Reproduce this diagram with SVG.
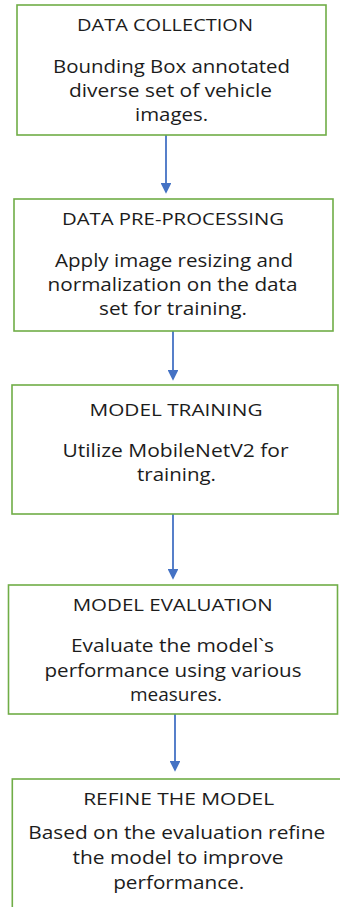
<svg xmlns="http://www.w3.org/2000/svg" width="340" height="907" viewBox="0 0 340 907">
<style>
.box{fill:#ffffff;stroke:#70AD47;stroke-width:1.6}
.t{font-family:"Open Sans","Liberation Sans",sans-serif;font-size:16.5px;fill:#1c1c1c;text-anchor:middle}
.b{font-family:"Open Sans","Liberation Sans",sans-serif;font-size:17.5px;fill:#1c1c1c;text-anchor:middle}
.c{stroke:#4472C4;stroke-width:1.8;fill:none}
</style>
<defs>
<marker id="ah" markerWidth="6" markerHeight="6" refX="5" refY="3" orient="auto" markerUnits="strokeWidth">
<path d="M0,0 L6,3 L0,6 Z" fill="#4472C4"/>
</marker>
</defs>
<rect width="340" height="907" fill="#ffffff"/>
<g id="connectors">
<line class="c" x1="166" y1="135" x2="166" y2="192" marker-end="url(#ah)"/>
<line class="c" x1="173" y1="331" x2="173" y2="379" marker-end="url(#ah)"/>
<line class="c" x1="173" y1="514" x2="173" y2="578" marker-end="url(#ah)"/>
<line class="c" x1="175" y1="714" x2="175" y2="770" marker-end="url(#ah)"/>
</g>
<g id="n1">
<rect class="box" x="17" y="5" width="309" height="130"/>
<text class="t" x="165" y="31" textLength="176" lengthAdjust="spacingAndGlyphs">DATA COLLECTION</text>
<text class="b" x="171.5" y="73" textLength="237" lengthAdjust="spacingAndGlyphs">Bounding Box annotated</text>
<text class="b" x="170.5" y="97" textLength="203" lengthAdjust="spacingAndGlyphs">diverse set of vehicle</text>
<text class="b" x="171.5" y="121" textLength="73" lengthAdjust="spacingAndGlyphs">images.</text>
</g>
<g id="n2">
<rect class="box" x="14" y="199" width="319" height="132"/>
<text class="t" x="173" y="225" textLength="222" lengthAdjust="spacingAndGlyphs">DATA PRE-PROCESSING</text>
<text class="b" x="174" y="267" textLength="238" lengthAdjust="spacingAndGlyphs">Apply image resizing and</text>
<text class="b" x="172.5" y="291" textLength="250" lengthAdjust="spacingAndGlyphs">normalization on the data</text>
<text class="b" x="173" y="315" textLength="148" lengthAdjust="spacingAndGlyphs">set for training.</text>
</g>
<g id="n3">
<rect class="box" x="12" y="385" width="326" height="129"/>
<text class="t" x="176" y="416" textLength="173" lengthAdjust="spacingAndGlyphs">MODEL TRAINING</text>
<text class="b" x="175.5" y="457" textLength="226" lengthAdjust="spacingAndGlyphs">Utilize MobileNetV2 for</text>
<text class="b" x="176.5" y="481" textLength="79" lengthAdjust="spacingAndGlyphs">training.</text>
</g>
<g id="n4">
<rect class="box" x="8.5" y="585" width="329" height="129"/>
<text class="t" x="172.7" y="611" textLength="200" lengthAdjust="spacingAndGlyphs">MODEL EVALUATION</text>
<text class="b" x="172.5" y="652" textLength="203" lengthAdjust="spacingAndGlyphs">Evaluate the model`s</text>
<text class="b" x="173" y="677" textLength="257" lengthAdjust="spacingAndGlyphs">performance using various</text>
<text class="b" x="176" y="701" textLength="92" lengthAdjust="spacingAndGlyphs">measures.</text>
</g>
<g id="n5">
<rect class="box" x="12.3" y="779" width="340" height="140"/>
<text class="t" x="178.7" y="805" textLength="191" lengthAdjust="spacingAndGlyphs">REFINE THE MODEL</text>
<text class="b" x="176.7" y="839" textLength="297" lengthAdjust="spacingAndGlyphs">Based on the evaluation refine</text>
<text class="b" x="178" y="864" textLength="211" lengthAdjust="spacingAndGlyphs">the model to improve</text>
<text class="b" x="178.7" y="889" textLength="131" lengthAdjust="spacingAndGlyphs">performance.</text>
</g>
</svg>
